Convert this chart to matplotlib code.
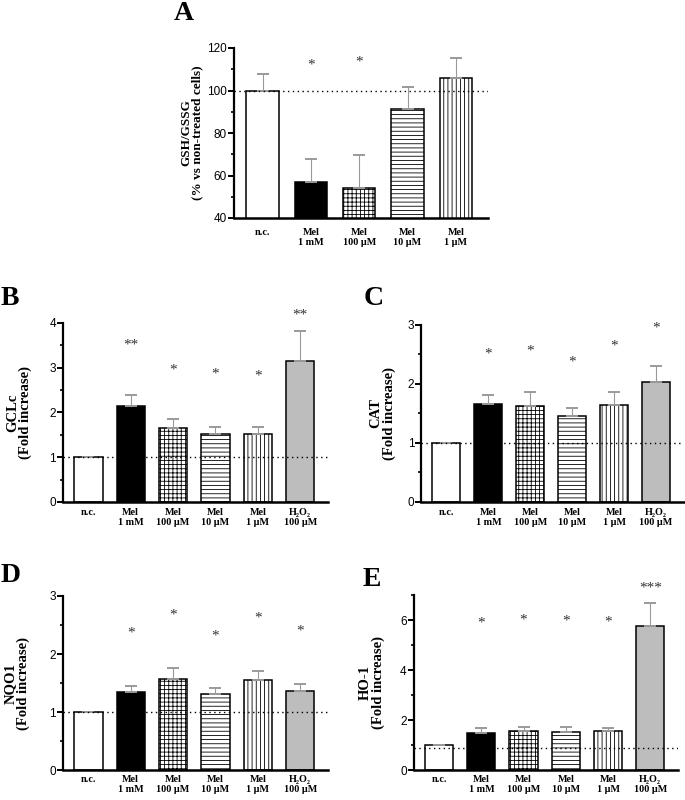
import numpy as np
import matplotlib
matplotlib.use("Agg")
import matplotlib.pyplot as plt
from matplotlib.ticker import MultipleLocator

plt.rcParams['hatch.linewidth'] = 0.6

SERIF = ['Liberation Serif', 'DejaVu Serif']
SANS = ['Liberation Sans', 'DejaVu Sans']

# ---- data ----
labels = ['n.c.', 'Mel\n1 mM', 'Mel\n100 µM', 'Mel\n10 µM', 'Mel\n1 µM', 'H₂O₂\n100 µM']

gsh = [100, 57, 54, 91.5, 106]
gsh_err = [8, 11, 15.5, 10, 9.5]
gsh_stars = ['', '*', '*', '', '']
gsh_star_y = [0, 112.5, 114, 0, 0]

gclc = [1.0, 2.15, 1.645, 1.52, 1.52, 3.14]
gclc_err = [0, 0.24, 0.205, 0.15, 0.16, 0.68]
gclc_stars = ['', '**', '*', '*', '*', '**']
gclc_star_y = [0, 3.55, 2.99, 2.89, 2.84, 4.2]

cat = [1.0, 1.66, 1.63, 1.45, 1.65, 2.04]
cat_err = [0, 0.16, 0.24, 0.14, 0.21, 0.26]
cat_stars = ['', '*', '*', '*', '*', '*']
cat_star_y = [0, 2.54, 2.58, 2.40, 2.66, 2.97]

nqo1 = [1.0, 1.357, 1.58, 1.32, 1.55, 1.37]
nqo1_err = [0, 0.09, 0.18, 0.09, 0.16, 0.11]
nqo1_stars = ['', '*', '*', '*', '*', '*']
nqo1_star_y = [0, 2.39, 2.70, 2.34, 2.65, 2.42]

ho1 = [1.0, 1.51, 1.56, 1.55, 1.57, 5.75]
ho1_err = [0, 0.19, 0.18, 0.17, 0.11, 0.93]
ho1_stars = ['', '*', '*', '*', '*', '***']
ho1_star_y = [0, 5.96, 6.07, 6.03, 6.0, 7.34]

# bar styles: (facecolor, hatch)
styles = [('white', None), ('black', None), ('white', '++++'),
          ('white', '----'), ('white', '||||'), ('#bdbdbd', None)]


def panel(ax, vals, errs, stars, star_y, ylim, major, minor, ref, ylabel, ylab_size, ylab_x,
          xpad, letter, letter_xy):
    n = len(vals)
    x = np.arange(n)
    for i in range(n):
        fc, h = styles[i]
        ax.bar(x[i], vals[i], width=0.67, color=fc, edgecolor='black',
               linewidth=1.1, hatch=h, zorder=2)
    eb = ax.errorbar(x, vals, yerr=[np.zeros(n), errs], fmt='none',
                     ecolor='#9a9a9a', elinewidth=0.8, capsize=4.5,
                     capthick=1.4, zorder=3)
    for cl in eb[1]:
        cl.set_color('black')
    ax.axhline(ref, color='black', linestyle=(0, (1, 2.5)), linewidth=1.0, zorder=4)
    for i in range(n):
        if stars[i]:
            ax.text(x[i], star_y[i], stars[i], ha='center', va='center_baseline',
                    fontsize=11, color='#333333', family=SERIF, clip_on=False)
    ax.set_xlim(-0.6, n - 1 + 0.66)
    ax.set_ylim(*ylim)
    ax.yaxis.set_major_locator(MultipleLocator(major))
    ax.yaxis.set_minor_locator(MultipleLocator(minor))
    for s in ['top', 'right']:
        ax.spines[s].set_visible(False)
    ax.spines['left'].set_linewidth(1.6)
    ax.spines['bottom'].set_linewidth(1.8)
    ax.tick_params(axis='y', which='major', direction='out', length=4, width=1.4,
                   labelsize=8.5, pad=1)
    ax.tick_params(axis='y', which='minor', direction='out', length=2.5, width=1.2)
    ax.tick_params(axis='x', length=0, pad=xpad)
    for t in ax.get_yticklabels():
        t.set_family(SANS)
    ax.set_xticks(x)
    ax.set_xticklabels(labels[:n], family=SERIF, fontweight='bold', fontsize=7.3,
                       linespacing=1.15, va='top')
    ax.set_ylabel(ylabel, family=SERIF, fontweight='bold', fontsize=ylab_size,
                  linespacing=0.95)
    ax.yaxis.set_label_coords(ylab_x, 0.5)
    fig.text(letter_xy[0], letter_xy[1], letter, family=SERIF, fontweight='bold',
             fontsize=20, ha='center', va='center')


fig = plt.figure(figsize=(6.85, 8.0), dpi=100)

axA = fig.add_axes([0.341, 0.7275, 0.371, 0.2125])
panel(axA, gsh, gsh_err, gsh_stars, gsh_star_y, (40, 120), 20, 10, 100,
      'GSH/GSSG\n(% vs non-treated cells)', 9.5, -0.118, 7, 'A', (0.269, 0.983))

axB = fig.add_axes([0.092, 0.3725, 0.387, 0.2238])
panel(axB, gclc, gclc_err, gclc_stars, gclc_star_y, (0, 4), 1, 0.5, 1,
      'GCLc\n(Fold increase)', 10.5, -0.117, 4, 'B', (0.014, 0.627))

axC = fig.add_axes([0.615, 0.3725, 0.383, 0.2213])
panel(axC, cat, cat_err, cat_stars, cat_star_y, (0, 3), 1, 0.5, 1,
      'CAT\n(Fold increase)', 10.5, -0.098, 4, 'C', (0.546, 0.627))

axD = fig.add_axes([0.092, 0.037, 0.387, 0.218])
panel(axD, nqo1, nqo1_err, nqo1_stars, nqo1_star_y, (0, 3), 1, 0.5, 1,
      'NQO1\n(Fold increase)', 10.5, -0.125, 3, 'D', (0.015, 0.28))

axE = fig.add_axes([0.604, 0.037, 0.386, 0.219])
panel(axE, ho1, ho1_err, ho1_stars, ho1_star_y, (0, 7), 2, 1, 0.9,
      'HO-1\n(Fold increase)', 10.5, -0.11, 3, 'E', (0.543, 0.276))

fig.savefig('out.png', dpi=100)
